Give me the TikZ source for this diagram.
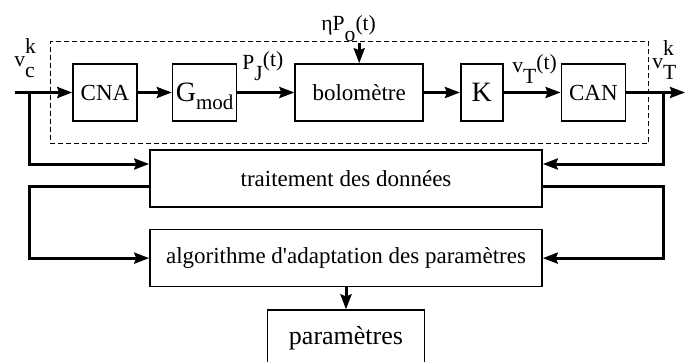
\documentclass[tikz,border=0pt]{standalone}
\usepackage{fontspec}
\setmainfont{Liberation Serif}
\newfontfamily\straightfont{Liberation Serif}
\usetikzlibrary{arrows.meta, positioning, fit}

\newcommand{\lo}[1]{\raisebox{-1.2ex}{#1}}
\newcommand{\hi}[1]{\raisebox{1.3ex}{#1}}

\begin{document}
\begin{tikzpicture}[x=0.5pt, y=-0.5pt, node distance=17pt,
  block/.style={rectangle, draw, line width=0.8pt, minimum height=28.5pt, inner sep=0pt, text centered, font=\fontsize{11.5}{13}\selectfont},
  conn/.style={-{Stealth[length=7.5pt, width=5.5pt, inset=1pt]}, line width=1.5pt},
  lbl/.style={inner sep=0pt, anchor=base west, font=\fontsize{10.8}{12}\selectfont}]

  \useasboundingbox (0,0) rectangle (686,361);

  % chaine de mesure
  \node[block, minimum width=32pt] (CNA) at (105,92.5) {CNA};
  \node[block, minimum width=32pt, right=17pt of CNA] (Gmod) {{\fontsize{14}{14}\selectfont G}\raisebox{-4pt}[0pt][0pt]{\fontsize{10.5}{12}\selectfont mod}};
  \node[block, minimum width=64pt, right=28.5pt of Gmod] (bolo) {bolomètre};
  \node[block, minimum width=21pt, right=18pt of bolo, font=\fontsize{14}{14}\selectfont] (K) {K};
  \node[block, minimum width=32pt, right=28.5pt of K] (CAN) {CAN};

  \node[draw, line width=0.6pt, dash pattern=on 2.5pt off 1.5pt, fit=(CNA)(CAN), inner sep=11pt] (sys) {};

  % traitement
  \node[block, minimum width=196pt] (trait) at (346,178.5) {traitement des données};
  \node[block, minimum width=196pt, below=10.5pt of trait] (algo) {algorithme d{\straightfont '}adaptation des paramètres};
  \node[block, minimum width=78.5pt, below=11pt of algo, font=\fontsize{13}{15}\selectfont] (param) {paramètres};

  % signaux
  \node[lbl] (vck) at (14,66) {v\rlap{\hi{k}}\lo{c}};
  \node[lbl] (vTk) at (652,68) {v\rlap{\hi{k}}\lo{T}};
  \node[lbl] (PJ) at (242,69) {P\lo{J}\raisebox{0.3ex}{(t)}};
  \node[lbl] (vTt) at (512,72) {v\lo{T}\raisebox{0.3ex}{(t)}};
  \node[lbl] (eta) at (321,30) {ηP\lo{o}(t)};

  \coordinate (in) at (15,92.5);
  \coordinate (bin) at (29,92.5);
  \coordinate (out) at (685,92.5);
  \coordinate (bout) at (663,92.5);
  \coordinate (lft) at (algo.west -| bin);
  \coordinate (rgt) at (algo.east -| bout);

  \draw[conn] (in) -- (CNA);
  \draw[conn] (CNA) -- (Gmod);
  \draw[conn] (Gmod) -- (bolo);
  \draw[conn] (bolo) -- (K);
  \draw[conn] (K) -- (CAN);
  \draw[conn] (CAN) -- (out);
  \draw[conn] (bolo.north |- eta.south) -- (bolo.north);

  \draw[conn] (bin) |- ([yshift=7.25pt]trait.west);
  \draw[conn] (bout) |- ([yshift=7.25pt]trait.east);
  \draw[conn] ([yshift=-3.75pt]trait.west) -| (lft) -- (algo.west);
  \draw[conn] ([yshift=-3.75pt]trait.east) -| (rgt) -- (algo.east);
  \draw[conn] (algo) -- (param);

\end{tikzpicture}
\end{document}
